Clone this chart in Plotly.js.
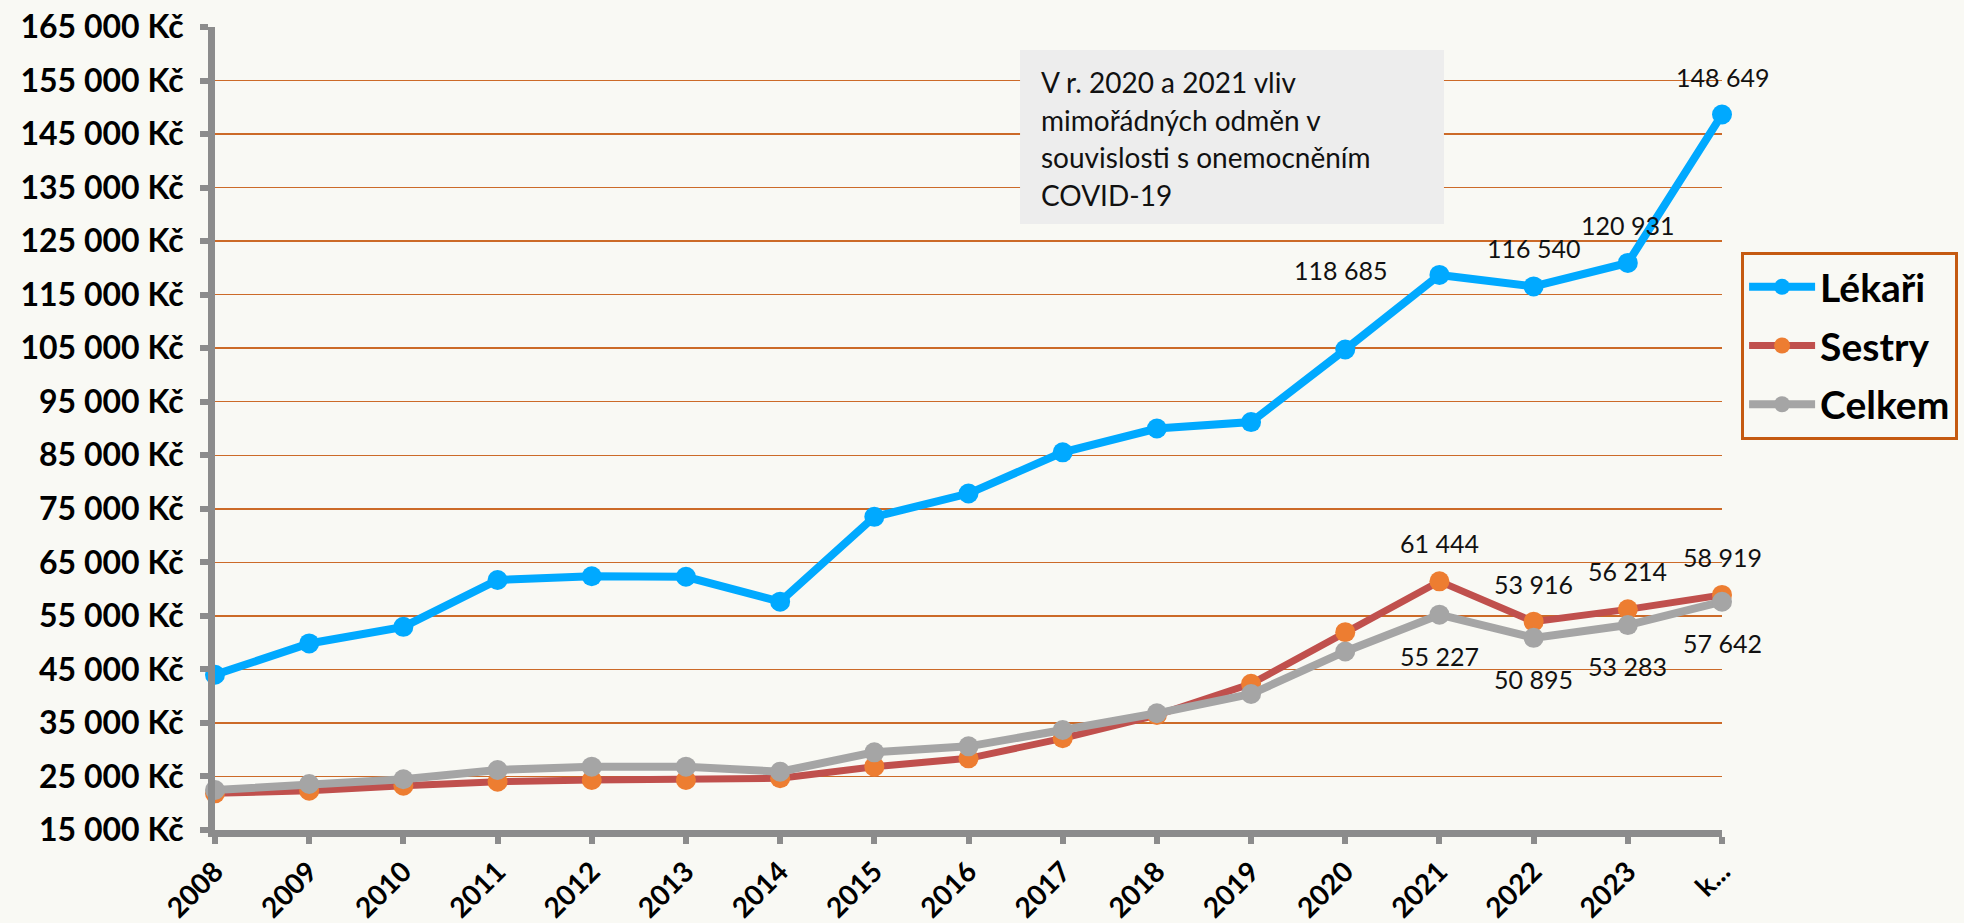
<!DOCTYPE html>
<html>
<head>
<meta charset="utf-8">
<script src="https://cdn.plot.ly/plotly-3.0.1.min.js"></script>
<style>
  html, body { margin: 0; padding: 0; background: #f9f9f4; }
  #chart { width: 1964px; height: 923px; }
</style>
</head>
<body>
<div id="chart"></div>
<script>
// Průměrné měsíční mzdy – lékaři, sestry, celkem
const YEARS = ['2008', '2009', '2010', '2011', '2012', '2013', '2014', '2015', '2016',
  '2017', '2018', '2019', '2020', '2021', '2022', '2023', 'k...'];
const LEKARI = [44000, 49850, 52950, 61700, 62400, 62300, 57650, 73500, 77850,
  85550, 90000, 91200, 104750, 118685, 116540, 120931, 148649];
const SESTRY = [21850, 22350, 23270, 24020, 24340, 24340, 24660, 26830, 28390,
  32130, 36480, 42300, 51950, 61444, 53916, 56214, 58919];
const CELKEM = [22470, 23590, 24470, 26210, 26830, 26830, 25890, 29510, 30630,
  33680, 36800, 40400, 48350, 55227, 50895, 53283, 57642];
const Y_TICKS = [15000, 25000, 35000, 45000, 55000, 65000, 75000, 85000,
  95000, 105000, 115000, 125000, 135000, 145000, 155000, 165000];
const LABELLED = [13, 14, 15, 16];   // indexy bodů s popiskem hodnoty
const NOTE = ['V r. 2020 a 2021 vliv', 'mimořádných odměn v',
  'souvislosti s onemocněním', 'COVID-19'];

const FONT = 'Lato, "Open Sans", sans-serif';
const fmt = v => String(v).replace(/\B(?=(\d{3})+(?!\d))/g, ' ');

function series(name, y, lineColor, markerColor, width) {
  return {
    x: YEARS, y, name, type: 'scatter', mode: 'lines+markers', cliponaxis: false,
    line: { color: lineColor, width },
    marker: { color: markerColor, size: 20 },
    legendgroup: name, hoverinfo: 'skip',
  };
}

const traces = [
  series('Lékaři', LEKARI, '#00a9ff', '#00a9ff', 8),
  series('Sestry', SESTRY, '#c0504d', '#ed7d31', 7),
  series('Celkem', CELKEM, '#a5a5a5', '#a5a5a5', 8),
];

// popisky hodnot (x jako index kategorie – '2021' by se bralo jako číslo)
const annotations = [];
const lab = (i, y, opts) => annotations.push(Object.assign({
  x: i, y, xref: 'x', yref: 'y', text: fmt(y), showarrow: false,
  font: { family: FONT, size: 25, color: '#111' }, xanchor: 'center', yanchor: 'middle',
}, opts));
LABELLED.forEach(i => {
  if (i === 13) lab(i, LEKARI[i], { xanchor: 'right', xshift: -50, yshift: 5 });
  else lab(i, LEKARI[i], { yshift: 38 });
  lab(i, SESTRY[i], { yshift: 38 });
  lab(i, CELKEM[i], { yshift: -41 });
});

// poznámka v šedém rámečku
NOTE.forEach((t, k) => annotations.push({
  xref: 'paper', yref: 'paper', x: 0.5468, y: 0.9315 - k * 0.0469,
  xanchor: 'left', yanchor: 'middle', showarrow: false, text: t,
  font: { family: FONT, size: 28, color: '#111' },
}));

const layout = {
  width: 1964, height: 923,
  margin: { l: 215, r: 242, t: 27, b: 93 },
  paper_bgcolor: '#f9f9f4', plot_bgcolor: '#f9f9f4',
  font: { family: FONT, color: '#000' },
  separators: ', ',
  showlegend: true,
  legend: {
    // vztaženo ke kontejneru, aby legenda neposouvala okraje grafu
    xref: 'container', yref: 'container',
    x: 0.8865, y: 0.727, xanchor: 'left', yanchor: 'top',
    bordercolor: '#c55a11', borderwidth: 3, bgcolor: 'rgba(0,0,0,0)',
    font: { family: FONT, size: 39, color: '#000', weight: 'bold' },
    itemwidth: 66, traceorder: 'grouped', tracegroupgap: 5,
  },
  xaxis: {
    type: 'category', range: [0, YEARS.length - 1],
    showgrid: false, zeroline: false,
    showline: true, linecolor: '#8c8c8c', linewidth: 7,
    ticks: 'outside', ticklen: 7, tickwidth: 6, tickcolor: '#8c8c8c',
    tickangle: -45, ticklabelstandoff: 0,
    tickfont: { family: FONT, size: 28, color: '#000', weight: 'bold' },
  },
  yaxis: {
    range: [Y_TICKS[0], Y_TICKS[Y_TICKS.length - 1]],
    tickvals: Y_TICKS, ticktext: Y_TICKS.map(v => fmt(v) + ' Kč'),
    showgrid: true, gridcolor: '#cc6a28', gridwidth: 1.5, zeroline: false,
    showline: true, linecolor: '#8c8c8c', linewidth: 7,
    ticks: 'outside', ticklen: 8, tickwidth: 6, tickcolor: '#8c8c8c',
    ticklabelstandoff: 10,
    tickfont: { family: FONT, size: 32, color: '#000', weight: 'bold' },
  },
  shapes: [{
    type: 'rect', xref: 'paper', yref: 'paper', layer: 'above',
    x0: 0.5342, x1: 0.8155, y0: 0.7547, y1: 0.9714,
    fillcolor: '#ededed', line: { width: 0 },
  }],
  annotations,
};

Plotly.newPlot('chart', traces, layout, { displayModeBar: false, staticPlot: true });
</script>
</body>
</html>
